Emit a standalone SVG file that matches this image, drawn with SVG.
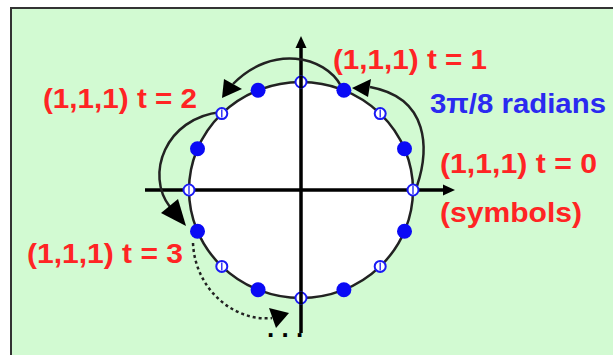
<svg xmlns="http://www.w3.org/2000/svg" width="613" height="355" viewBox="0 0 613 355">
<defs>
<style>
.lbl{font-family:"Liberation Sans",Arial,sans-serif;font-weight:bold;font-size:28px;}
.red{fill:#ff2424;}
.blue{fill:#2a2af0;}
.axis{stroke:#000;stroke-width:3.5;fill:none;}
.arc{stroke:#222;stroke-width:2.5;fill:none;}
.dot{stroke:#222;stroke-width:2.5;fill:none;stroke-dasharray:3 3;}
.head{fill:#000;}
.filled{fill:#0a0af5;}
.open{fill:#fff;stroke:#1a1af5;stroke-width:2;}
.tick{stroke:#1a1af5;stroke-width:1.3;}
</style>
</defs>
<rect x="0" y="0" width="613" height="355" fill="#fff"/>
<rect id="panel" x="11" y="8" width="612" height="360" fill="#d2fad2" stroke="#333" stroke-width="2"/>

<g id="circle">
<ellipse cx="301" cy="190" rx="112" ry="108" fill="#fff" stroke="#222" stroke-width="2.5"/>
</g>

<g id="axes">
<line class="axis" x1="301" y1="333" x2="301" y2="46"/>
<polygon class="head" points="301,36 295.5,48 306.5,48"/>
<line class="axis" x1="145" y1="190" x2="444" y2="190"/>
<polygon class="head" points="455,190 443,184.5 443,195.5"/>
</g>

<g id="connectors">
<path class="arc" d="M417,186 C429,150 430,98 370,87"/>
<polygon class="head" points="352,88 371,79 368,97"/>
<path class="arc" d="M341,86 C325,56 272,44 233,84"/>
<polygon class="head" points="222,98 224,79 242,89"/>
<path class="arc" d="M221,112 C165,118 145,175 170,207"/>
<polygon class="head" points="186,226 161,213 178,199"/>
<path class="dot" d="M193,243 C195,290 235,322 272,318"/>
<polygon class="head" points="289,313 269,308 276,328"/>
</g>

<g id="symbols">
<circle class="open" cx="413" cy="190" r="5.5"/><line class="tick" x1="413" y1="186" x2="413" y2="194"/>
<circle class="filled" cx="404.5" cy="148.7" r="7.5"/>
<circle class="open" cx="380.2" cy="113.6" r="5.5"/><line class="tick" x1="380.2" y1="109.6" x2="380.2" y2="117.6"/>
<circle class="filled" cx="343.9" cy="90.2" r="7.5"/>
<circle class="open" cx="301" cy="82" r="5.5"/>
<circle class="filled" cx="258.1" cy="90.2" r="7.5"/>
<circle class="open" cx="221.8" cy="113.6" r="5.5"/><line class="tick" x1="221.8" y1="109.6" x2="221.8" y2="117.6"/>
<circle class="filled" cx="197.5" cy="148.7" r="7.5"/>
<circle class="open" cx="189" cy="190" r="5.5"/><line class="tick" x1="189" y1="186" x2="189" y2="194"/>
<circle class="filled" cx="197.5" cy="231.3" r="7.5"/>
<circle class="open" cx="221.8" cy="266.4" r="5.5"/><line class="tick" x1="221.8" y1="262.4" x2="221.8" y2="270.4"/>
<circle class="filled" cx="258.1" cy="289.8" r="7.5"/>
<circle class="open" cx="301" cy="298" r="5.5"/>
<circle class="filled" cx="343.9" cy="289.8" r="7.5"/>
<circle class="open" cx="380.2" cy="266.4" r="5.5"/><line class="tick" x1="380.2" y1="262.4" x2="380.2" y2="270.4"/>
<circle class="filled" cx="404.5" cy="231.3" r="7.5"/>
<line x1="301" y1="76" x2="301" y2="88" stroke="#000" stroke-width="3.5"/>
<line x1="301" y1="292" x2="301" y2="304" stroke="#000" stroke-width="3.5"/>
</g>

<g id="labels">
<text class="lbl red" x="333" y="69" textLength="154" lengthAdjust="spacingAndGlyphs">(1,1,1) t = 1</text>
<text class="lbl blue" x="430" y="113" textLength="176" lengthAdjust="spacingAndGlyphs">3π/8 radians</text>
<text class="lbl red" x="440" y="173" textLength="157" lengthAdjust="spacingAndGlyphs">(1,1,1) t = 0</text>
<text class="lbl red" x="440" y="222" textLength="142" lengthAdjust="spacingAndGlyphs">(symbols)</text>
<text class="lbl red" x="43" y="108" textLength="154" lengthAdjust="spacingAndGlyphs">(1,1,1) t = 2</text>
<text class="lbl red" x="27" y="263" textLength="156" lengthAdjust="spacingAndGlyphs">(1,1,1) t = 3</text>
<text x="267" y="337" font-family="Liberation Sans,Arial,sans-serif" font-weight="bold" font-size="26" letter-spacing="7.3" fill="#000">...</text>
</g>
</svg>
